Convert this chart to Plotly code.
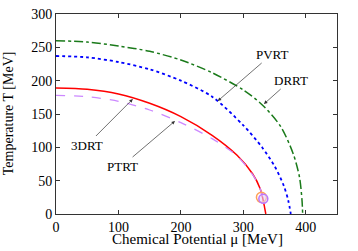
import plotly.graph_objects as go

# 3DRT (red solid)
mu_3drt = [0, 50, 100, 150, 200, 250, 290, 315, 327, 331, 334, 336]
T_3drt = [189, 187, 180, 166, 146, 118, 88, 60, 38, 24, 10, 0]
# PTRT (violet dashed)
mu_ptrt = [0, 50, 100, 150, 200, 250, 290, 315, 327, 331]
T_ptrt = [178, 176, 169, 156, 137, 113, 87, 59, 38, 24]
# PVRT (blue dotted)
mu_pvrt = [0, 50, 100, 150, 200, 250, 300, 330, 350, 365, 372, 376]
T_pvrt = [237, 235, 228, 217, 200, 176, 133, 100, 72, 42, 20, 0]
# DRRT (green dash-dot)
mu_drrt = [0, 50, 100, 150, 200, 250, 300, 330, 360, 380, 390, 394, 395]
T_drrt = [260, 258, 252, 244, 231, 212, 186, 164, 131, 90, 55, 20, 0]
# critical points
cp_3drt = (329, 25)
cp_ptrt = (332, 23)

labels = ["3DRT", "PTRT", "PVRT", "DRRT"]
label_pos = [(49.6, 103.5), (105.7, 72), (346, 240), (376, 201)]
arrow_tip = [(123, 172.5), (190.6, 139.5), (259, 169.5), (333, 165)]

x_title = "Chemical Potential μ [MeV]"
y_title = "Temperature T [MeV]"

FONT = "Liberation Serif"

fig = go.Figure()
fig.add_trace(go.Scatter(x=mu_drrt, y=T_drrt, mode="lines",
                         line=dict(color="#1a7a1a", width=1.5, dash="dashdot", shape="spline", smoothing=0.8)))
fig.add_trace(go.Scatter(x=mu_pvrt, y=T_pvrt, mode="lines",
                         line=dict(color="#0000ff", width=1.8, dash="dot", shape="spline", smoothing=0.8)))
fig.add_trace(go.Scatter(x=mu_3drt, y=T_3drt, mode="lines",
                         line=dict(color="#ff0000", width=1.5, shape="spline", smoothing=0.8)))
fig.add_trace(go.Scatter(x=mu_ptrt, y=T_ptrt, mode="lines",
                         line=dict(color="#cc88ff", width=1.3, dash="dash", shape="spline", smoothing=0.8)))
fig.add_trace(go.Scatter(x=[cp_3drt[0]], y=[cp_3drt[1]], mode="markers",
                         marker=dict(symbol="circle-open", size=10,
                                     line=dict(color="#ff0000", width=1.5))))
fig.add_trace(go.Scatter(x=[cp_ptrt[0]], y=[cp_ptrt[1]], mode="markers",
                         marker=dict(symbol="circle", size=9, color="rgba(230,210,255,0.6)",
                                     line=dict(color="#bb77ff", width=1.5))))

for lab, (ax, ay), (x, y) in zip(labels, label_pos, arrow_tip):
    fig.add_annotation(x=x, y=y, ax=ax, ay=ay, axref="x", ayref="y",
                       xref="x", yref="y", text=lab, showarrow=True,
                       arrowhead=2, arrowsize=1, arrowwidth=0.7,
                       arrowcolor="#333333",
                       font=dict(family=FONT, size=13, color="black"))

# axis titles as paper-positioned text
fig.add_annotation(x=0.5036, y=-0.125, xref="paper", yref="paper", text=x_title,
                   showarrow=False, xanchor="center", yanchor="middle",
                   font=dict(family=FONT, size=15, color="black"))
fig.add_annotation(x=-0.17, y=0.505, xref="paper", yref="paper", text=y_title,
                   showarrow=False, xanchor="center", yanchor="middle", textangle=-90,
                   font=dict(family=FONT, size=14, color="black"))

axis_common = dict(showline=True, linecolor="#333333", linewidth=1, mirror="allticks",
                   ticks="inside", ticklen=4, tickcolor="#333333", showgrid=False,
                   zeroline=False, automargin=False,
                   tickfont=dict(family=FONT, size=14, color="black"))

fig.update_layout(
    width=358, height=251,
    margin=dict(l=56, r=21, t=14, b=37),
    paper_bgcolor="white", plot_bgcolor="white",
    showlegend=False,
    xaxis=dict(range=[0, 450], tickvals=[0, 100, 200, 300, 400], **axis_common),
    yaxis=dict(range=[0, 300], tickvals=[0, 50, 100, 150, 200, 250, 300], **axis_common),
)

fig.write_html("out.html", config={"displayModeBar": False},
               post_script="document.body.style.margin='0';document.body.style.overflow='hidden';")
